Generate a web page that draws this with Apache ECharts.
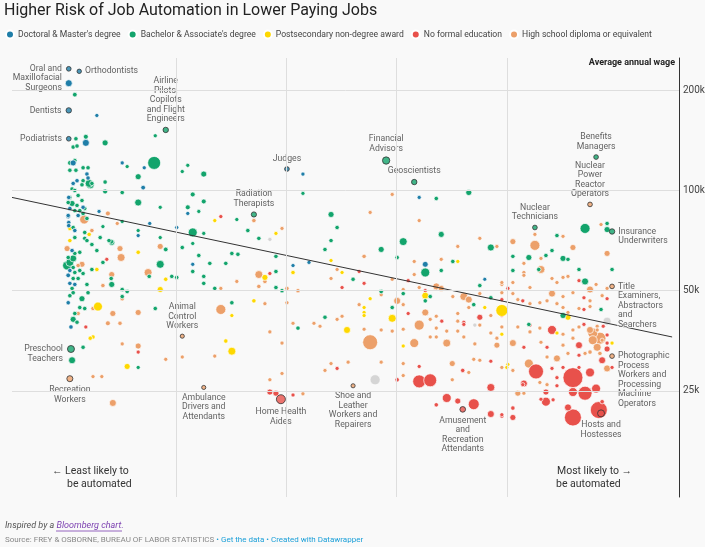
<!DOCTYPE html>
<html><head><meta charset="utf-8">
<script src="https://cdn.jsdelivr.net/npm/echarts@6/dist/echarts.min.js"></script>
<style>html,body{margin:0;padding:0;background:#f9f9f9}#c{width:705px;height:547px}</style>
</head><body><div id="c"></div>
<script>
// ---- categories / colours ----
const categories = ["Doctoral & Master's degree", "Bachelor & Associate's degree", "Postsecondary non-degree award", "No formal education", "High school diploma or equivalent"];
const palette = ['#1f7ea8', '#13a46c', '#fed800', '#e8514b', '#eca06a'];
const yTicks = [25, 50, 100, 200];          // average annual wage, thousands
const xGrid = [0.2, 0.4, 0.6, 0.8];         // probability of automation
const trendX = [-0.098, 1.1];
const trendY = [95.3, 36.3];

// ---- data: [probability of automation, average wage (k$), employment (k)] ----
const doctoral = [[0.005,210,100],[0.056,168,35],[0.036,139,100],[0.102,121,35],[0.142,117,35],[0.14,102,45],[0.06,86.5,35],[0.201,77.4,35],[0.221,85.3,35],[0.131,73.2,35],[0.152,79.6,35],[0.013,121,75],[0.038,112,40],[0.04,109,40],[0.02,107,40],[0.013,105,40],[0.031,89,40],[0.007,88.3,40],[0.022,84.1,40],[0.004,84.1,40],[0.005,80.1,40],[0.016,75.8,40],[0.011,66,40],[0.007,57.5,40],[0.004,55.6,45],[0.007,52.6,40],[0.016,52.2,40],[0.004,46,40],[0.009,38.9,40],[0.23,60,35],[0.412,59.5,35],[0.441,60.8,35],[0.43,112,35],[0.641,95.3,35],[0.652,60,70],[0.76,54.1,30],[0.005,95.3,40],[0.004,83.5,45],[0.005,78.4,40]];

const bachelor = [[0.016,194,45],[0.018,143,40],[0.036,145,50],[0.071,139,75],[0.013,135,40],[0.02,136,40],[0.162,146,35],[0.16,121,345],[0.111,118,35],[0.131,110,75],[0.071,106,40],[0.102,98.6,40],[0.071,99.3,50],[0.044,104,130],[0.131,92,100],[0.102,80.7,35],[0.067,77.9,35],[0.171,89,35],[0.211,114,35],[0.221,119,35],[0.25,112,75],[0.23,97.3,50],[0.221,89,50],[0.25,92.7,50],[0.241,86.5,35],[0.31,81.8,35],[0.23,74.8,165],[0.25,74.3,35],[0.171,72.2,35],[0.131,75.8,35],[0.181,66.5,45],[0.211,67.4,40],[0.23,69.3,35],[0.082,70.2,50],
[0.007,121,45],[0.016,123,40],[0.031,117,40],[0.04,117,40],[0.007,115,40],[0.018,115,40],[0.042,105,130],[0.047,105,40],[0.031,107,40],[0.029,104,40],[0.011,101,40],[0.016,100,40],[0.022,96.6,40],[0.007,95.3,40],[0.004,92,40],[0.011,91.4,75],[0.02,90.2,40],[0.029,93.3,40],[0.016,87,40],[0.025,87,40],[0.034,88.3,40],[0.031,85.3,40],[0.013,77.4,40],[0.038,82.4,40],[0.034,74.8,40],[0.034,71.8,40],[0.016,72.2,40],[0.038,70.7,40],[0.016,64.7,40],[0.025,65.2,40],[0.004,62.9,40],[0.013,62.5,100],[0.007,60.8,130],[0.002,59.5,165],[0.013,58.7,40],[0.016,56.7,40],[0.031,56.3,40],[0.025,57.5,40],[0.013,54.4,40],[0.022,54.4,40],[0.038,52.2,40],[0.011,50.8,40],[0.007,48.3,40],[0.013,49.3,40],[0.029,47.3,75],[0.025,44.5,40],[0.016,42.7,40],[0.034,44.2,40],[0.013,41,75],[0.02,40.2,40],[0.04,49.3,40],[0.031,33.8,40],[0.011,30.9,100],
[0.047,68.8,40],[0.056,66,40],[0.062,72.2,40],[0.078,70.7,40],[0.083,69.8,75],[0.067,60.8,40],[0.047,57.9,40],[0.151,55.2,40],[0.082,54.4,40],[0.083,52.2,75],[0.102,50.4,40],[0.111,49.7,40],[0.102,48,40],[0.171,60,130],[0.192,55.2,40],[0.201,54.8,40],[0.162,44.2,40],[0.23,57.1,40],[0.25,55.2,40],[0.25,52.6,40],[0.261,60.4,40],[0.27,50.8,40],[0.29,60.4,40],[0.301,64.7,40],[0.312,64.3,40],[0.241,63.8,40],[0.301,46,40],[0.131,29.4,35],[0.33,75.8,40],[0.35,71.8,40],[0.43,98,35],[0.481,84.7,75],[0.492,77.4,40],[0.481,70.7,40],[0.47,66.5,40],[0.381,57.1,40],[0.381,51.1,40],[0.392,50,40],[0.381,63.4,40],[0.47,41.6,40],[0.421,38.6,40],[0.521,54.1,40],[0.572,66.5,75],[0.612,70.2,130],[0.572,49.7,40],[0.612,49,40],[0.601,62.9,40],[0.672,94.6,40],[0.731,98.6,75],[0.681,73.8,75],[0.652,56.7,165],[0.661,48,40],[0.652,46.6,40],[0.681,57.5,40],[0.702,61.2,40],[0.592,44.5,40],[0.771,67.4,100],[0.751,51.8,40],[0.771,47.6,40],[0.811,63.4,40],[0.84,62.9,75],[0.882,66,40],[0.891,73.2,40],[0.902,62.5,75],[0.911,62.1,40],[0.811,57.5,40],[0.931,57.9,40],[0.942,53.3,100],[0.942,76.9,205],[0.982,79.6,40],[0.982,76.3,75],[0.971,43.9,40],[0.902,42.1,75],[0.871,63.8,40],[0.858,57.9,40],[0.991,57.9,40],[0.74,45.4,40],[0.84,39.6,40]];

const postsecondary = [[0.042,73.8,40],[0.007,76.9,40],[0.007,70.7,40],[0.131,65.2,40],[0.181,54.1,40],[0.171,50.4,75],[0.056,57.9,40],[0.058,44.8,165],[0.049,36.3,40],[0.044,36,40],[0.111,29.6,75],[0.29,35.3,40],[0.301,32.9,130],[0.301,42.1,35],[0.27,81.2,35],[0.381,74.3,35],[0.361,54.8,75],[0.412,56.7,40],[0.481,61.6,35],[0.501,56.7,35],[0.341,46.6,40],[0.51,38.1,100],[0.541,43,35],[0.541,44.5,35],[0.541,42.1,35],[0.552,47.3,35],[0.592,41.3,130],[0.652,48.3,100],[0.711,61.2,35],[0.76,44.5,35],[0.791,43.6,295],[0.791,37,35],[0.802,30,35],[0.612,34.1,35],[0.911,41.6,75],[0.991,34.8,35],[0.891,37.3,35],[0.8,29.4,35]];

const noFormal = [[0.281,83.5,35],[0.036,38.9,35],[0.074,62.1,35],[0.131,32.7,35],[0.37,56.3,35],[0.501,51.1,35],[0.532,57.1,35],[0.541,52.6,35],[0.621,53.6,35],[0.652,50,35],[0.791,47,35],[0.802,50.8,35],[0.621,42.7,35],[0.682,40.5,35],[0.722,40.2,35],[0.722,39.6,35],[0.751,41.6,75],[0.791,42.1,35],[0.492,29.2,35],[0.37,24.8,75],[0.381,24.6,75],[0.412,24.3,35],[0.601,27,40],[0.641,29.6,35],[0.641,26.7,345],[0.661,26.9,345],[0.691,23.8,165],[0.711,23.3,75],[0.74,22.8,245],[0.672,22.7,40],[0.771,25.6,130],[0.771,21.3,100],[0.791,21,40],[0.72,28.8,40],[0.771,30.7,35],[0.811,22.2,40],[0.811,20.8,75],[0.791,21.2,35],[0.853,28.6,460],[0.92,27.4,815],[0.951,28.4,165],[0.973,30.9,100],[0.991,29.4,35],[0.931,29.4,35],[0.902,29.4,35],[0.882,29.2,35],[0.831,26.3,100],[0.891,27.4,35],[0.891,25.9,35],[0.92,24.8,165],[0.942,24.6,400],[0.962,25.4,165],[0.973,23.2,40],[0.871,24.8,75],[0.871,23.2,165],[0.862,23.6,35],[0.911,22.3,100],[0.92,20.8,590],[0.967,21.9,590],[0.884,23.5,35],[0.829,26.1,35],[0.982,47.3,35],[0.931,53.6,35],[0.94,47.6,35],[0.829,46.6,35],[0.94,43.9,35],[0.975,39.1,35],[0.94,39.6,35],[0.982,33.4,75],[0.982,36.8,35],[0.982,34.8,35],[0.931,34.3,100],[0.882,38.1,165],[0.842,39.4,35],[0.831,33.8,35],[0.873,33.8,35],[0.931,32,35]];

const highSchool = [[0.076,85.3,50],[0.033,81.8,165],[0.093,79.6,35],[0.171,67.9,75],[0.047,75.8,40],[0.002,66.9,75],[0.022,59.5,40],[0.029,60,75],[0.098,66.9,75],[0.1,62.9,130],[0.083,55.9,75],[0.149,56.7,130],[0.067,51.8,40],[0.102,47.3,40],[0.085,42.7,75],[0.098,39.9,40],[0.076,39.9,50],[0.131,43,75],[0.049,44.2,40],[0.022,42.7,40],[0.102,34.6,35],[0.131,34.1,75],[0.049,27.6,35],[0.065,27.6,35],[0.085,23,100],[0.181,31.1,35],[0.211,31.6,35],[0.27,31.8,35],[0.281,43.9,205],[0.281,50.8,35],[0.31,53.3,35],[0.341,81.2,40],[0.392,76.9,35],[0.35,55.9,130],[0.361,53.3,40],[0.35,51.5,40],[0.401,50.8,40],[0.421,50,40],[0.361,45.7,35],[0.401,46,35],[0.412,39.9,35],[0.45,39.9,35],[0.461,39.1,35],[0.492,41,35],[0.501,41.9,35],[0.37,37.6,35],[0.392,34.8,35],[0.392,28.2,35],[0.37,27,35],[0.43,24.5,35],[0.512,30.5,35],[0.481,30.2,35],[0.47,28.8,35],[0.492,57.9,35],[0.481,54.4,35],[0.552,85.9,35],[0.592,97.3,35],[0.641,81.2,35],[0.711,67.9,35],[0.541,63.4,40],[0.632,61.2,35],[0.632,55.9,35],[0.681,62.1,35],[0.751,71.8,35],[0.782,67.9,35],[0.592,54.1,35],[0.612,50.4,35],[0.572,48.6,35],[0.641,51.1,35],[0.672,51.5,100],[0.681,50.8,75],[0.702,48,35],[0.722,48,130],[0.731,47,100],[0.751,49,35],[0.791,52.2,35],[0.791,49.3,35],[0.601,46.6,100],[0.612,45.4,35],[0.532,45.4,35],[0.652,43,100],[0.672,41.9,35],[0.641,39.4,205],[0.661,41,35],[0.711,40.5,35],[0.751,39.4,35],[0.771,42.1,35],[0.731,44.5,35],[0.711,42.7,35],[0.711,37.8,35],[0.691,37.8,35],[0.672,38.6,35],[0.661,36.3,35],[0.672,36.3,35],[0.691,34.8,130],[0.722,36.3,35],[0.742,34.6,35],[0.771,37.3,35],[0.782,36,35],[0.791,38.9,35],[0.782,34.3,75],[0.632,34.8,165],[0.592,37.8,35],[0.612,38.3,35],[0.572,38.1,35],[0.541,38.3,35],[0.552,35,460],[0.572,30.5,35],[0.612,30.2,35],[0.701,30.2,75],[0.74,31.1,35],[0.751,30.9,35],[0.791,29.4,35],[0.731,28.4,35],[0.612,27.8,35],[0.701,27,35],
[0.811,70.2,75],[0.851,68.4,205],[0.902,72.8,35],[0.92,67.4,75],[0.982,64.7,75],[0.971,79,35],[0.851,73.8,35],[0.862,57.9,130],[0.862,62.5,35],[0.831,60.4,35],[0.831,56.7,35],[0.831,55.6,35],[0.791,52.9,35],[0.811,52.9,35],[0.842,51.1,35],[0.882,54.4,35],[0.891,52.9,35],[0.902,54.8,35],[0.911,55.2,35],[0.951,50.4,100],[0.962,52.2,35],[0.982,50.8,35],[0.973,48.3,35],[0.882,49,100],[0.902,48,35],[0.92,49.3,35],[0.951,46.6,35],[0.811,49,35],[0.82,47,35],[0.842,45.7,35],[0.86,46,35],[0.873,46.6,35],[0.891,45.7,35],[0.902,44.5,35],[0.911,43,35],[0.931,44.2,35],[0.951,44.8,35],[0.964,39.1,35],[0.931,38.9,35],[0.92,38.1,35],[0.951,38.1,100],[0.956,37.3,205],[0.964,38.1,35],[0.969,36,295],[0.956,35.5,165],[0.964,33.8,130],[0.973,35.5,35],[0.969,32.4,40],[0.951,32.7,40],[0.92,36,35],[0.902,37,35],[0.86,38.6,35],[0.842,37.6,35],[0.82,38.9,35],[0.811,34.8,100],[0.862,35,35],[0.902,34.3,35],[0.911,32.4,35],[0.942,32.4,35],[0.873,31.6,35],[0.891,31.3,100],[0.84,30.2,165],[0.982,29.2,100],[0.811,28.8,35],[0.82,24.6,75],[0.831,24.6,35],[0.86,26.5,35],[0.873,26.1,35]];

const unclassified = [[0.37,71.3,35],[0.561,27,205],[0.742,39.4,35],[0.982,40.5,130]];

// labelled occupations: [name, category index, probability, wage (k$), employment (k)]
const labeledJobs = [
 ['Oral and\nMaxillofacial\nSurgeons',0,0.005,232,45],
 ['Orthodontists',0,0.024,228,40],
 ['Dentists',0,0.005,174,60],
 ['Podiatrists',0,0.005,143,45],
 ['Judges',0,0.401,116,45],
 ['Airline\nPilots,\nCopilots\nand Flight\nEngineers',1,0.181,152,60],
 ['Financial\nAdvisors',1,0.581,123,110],
 ['Geoscientists',1,0.632,106,60],
 ['Radiation\nTherapists',1,0.341,84.7,55],
 ['Benefits\nManagers',1,0.962,126,45],
 ['Nuclear\nTechnicians',1,0.851,77.4,45],
 ['Insurance\nUnderwriters',1,0.991,75.3,60],
 ['Preschool\nTeachers',1,0.009,33.4,100],
 ['Hosts and\nHostesses',3,0.971,21.4,100],
 ['Amusement\nand\nRecreation\nAttendants',3,0.72,22,65],
 ['Home Health\nAides',3,0.39,23.6,165],
 ['Nuclear\nPower\nReactor\nOperators',4,0.951,90.8,45],
 ['Title\nExaminers,\nAbstractors\nand\nSearchers',4,0.991,51.5,45],
 ['Photographic\nProcess\nWorkers and\nProcessing\nMachine\nOperators',4,0.991,31.8,45],
 ['Shoe and\nLeather\nWorkers and\nRepairers',4,0.521,25.9,35],
 ['Ambulance\nDrivers and\nAttendants',4,0.25,25.6,35],
 ['Animal\nControl\nWorkers',4,0.211,36.5,35],
 ['Recreation\nWorkers',4,0.007,27.2,75]
];

// ---- label placement (style, not data) ----
const LH = 9.5;
function placement(name){
  const lines = name.split('\n').length;
  const left = ['Oral and\nMaxillofacial\nSurgeons','Dentists','Podiatrists','Preschool\nTeachers'];
  const right = ['Orthodontists','Insurance\nUnderwriters','Title\nExaminers,\nAbstractors\nand\nSearchers','Photographic\nProcess\nWorkers and\nProcessing\nMachine\nOperators'];
  const bottom = ['Hosts and\nHostesses','Amusement\nand\nRecreation\nAttendants','Home Health\nAides','Shoe and\nLeather\nWorkers and\nRepairers','Ambulance\nDrivers and\nAttendants','Recreation\nWorkers'];
  if (left.includes(name)) return {position:'left', distance:4, offset:[0,(lines-1)*LH/2]};
  if (right.includes(name)) return {position:'right', distance:3, offset:[0,(lines-1)*LH/2]};
  if (bottom.includes(name)) return {position:'bottom', distance:3};
  return {position:'top', distance:3};
}

const sizeOf = v => Math.max(4, 0.7 * Math.sqrt(v[2]));
const bySizeDesc = arr => arr.slice().sort((a,b)=>b[2]-a[2]);
const catData = [doctoral, bachelor, postsecondary, noFormal, highSchool];
const FONT = 'Roboto, "Noto Sans", sans-serif';

const drawOrder = [4,3,2,1,0];
const series = [];
series.push({
  type:'scatter', name:'grid', data:[[0.5,100]], symbolSize:0, silent:true, z:1,
  markLine:{ silent:true, symbol:'none', animation:false,
    lineStyle:{color:'#dedede', width:1, type:'solid'},
    data: xGrid.map(v=>({xAxis:v, label:{show:false}}))
      .concat(yTicks.map(v=>({yAxis:v, label:{show:true, position:'end', distance:4, formatter: v+'k', color:'#444', fontSize:10, fontFamily:FONT}})))
  }
});
series.push({type:'scatter', name:'unclassified', data:bySizeDesc(unclassified), symbolSize:sizeOf, silent:true, z:2,
  itemStyle:{color:'#cccccc', borderColor:'#ffffff', borderWidth:0.7}});
drawOrder.forEach(i=>{
  series.push({type:'scatter', name:categories[i], data:bySizeDesc(catData[i]), symbolSize:sizeOf, silent:true, z:2,
    itemStyle:{color:palette[i], borderColor:'#ffffff', borderWidth:0.7, opacity:1}});
});
series.push({type:'line', name:'trend', data: trendX.map((x,i)=>[x,trendY[i]]), showSymbol:false, silent:true, z:3,
  lineStyle:{color:'#333', width:1}});
series.push({type:'scatter', name:'labeled', silent:true, z:4, symbolSize:sizeOf,
  data: labeledJobs.map(j=>{
    const pl = placement(j[0]);
    return {value:[j[2],j[3],j[4]], name:j[0],
      itemStyle:{color:palette[j[1]], borderColor:'#333', borderWidth:1},
      label:Object.assign({show:true, formatter:j[0], color:'#3a3a3a', fontSize:8.7, lineHeight:LH, fontFamily:FONT,
        textBorderColor:'rgba(249,249,249,0.95)', textBorderWidth:2}, pl)};
  })
});

const chart = echarts.init(document.getElementById('c'), null, {renderer:'canvas'});
chart.setOption({
  backgroundColor:'#f9f9f9',
  animation:false,
  title:{text:'Higher Risk of Job Automation in Lower Paying Jobs', left:4, top:3, padding:0,
    textStyle:{fontFamily:FONT, fontSize:16, fontWeight:'normal', color:'#222'}},
  legend:{data:categories, left:5, top:29.5, padding:0, icon:'circle', itemWidth:8, itemHeight:8, itemGap:7,
    selectedMode:false, textStyle:{fontFamily:FONT, fontSize:8.6, color:'#444', padding:[0,0,0,-1]}},
  grid:{left:12, right:26, top:58, bottom:50, containLabel:false},
  xAxis:{type:'value', min:-0.098, max:1.1125, axisLine:{show:false}, axisTick:{show:false}, axisLabel:{show:false}, splitLine:{show:false}},
  yAxis:{type:'log', min:12, max:250, position:'right', axisLine:{show:true, onZero:false, lineStyle:{color:'#333', width:1}},
    axisTick:{show:false}, axisLabel:{show:false}, splitLine:{show:false}},
  graphic:[
    {type:'text', x:675, y:63, style:{text:'Average annual wage', font:'bold 9px '+FONT, fill:'#222', align:'right', verticalAlign:'middle'}},
    {type:'text', x:52, y:471, style:{text:'\u2190 Least likely to', font:'10.5px '+FONT, fill:'#333', verticalAlign:'middle'}},
    {type:'text', x:67, y:484, style:{text:'be automated', font:'10.5px '+FONT, fill:'#333', verticalAlign:'middle'}},
    {type:'text', x:557, y:471, style:{text:'Most likely to \u2192', font:'10.5px '+FONT, fill:'#333', verticalAlign:'middle'}},
    {type:'text', x:556, y:484, style:{text:'be automated', font:'10.5px '+FONT, fill:'#333', verticalAlign:'middle'}},
    {type:'text', x:5, y:526, style:{text:'{a|Inspired by a }{b|Bloomberg chart.}', verticalAlign:'middle',
      rich:{a:{font:'italic 9px '+FONT, fill:'#555'}, b:{font:'italic 9px '+FONT, fill:'#7b3fb0'}}}},
    {type:'line', shape:{x1:56, y1:531, x2:122, y2:531}, style:{stroke:'#7b3fb0', lineWidth:0.8}},
    {type:'text', x:5, y:540, style:{text:'{a|Source: FREY & OSBORNE, BUREAU OF LABOR STATISTICS }{b|\u2022 Get the data \u2022 Created with Datawrapper}', verticalAlign:'middle',
      rich:{a:{font:'8px '+FONT, fill:'#888'}, b:{font:'8px '+FONT, fill:'#1a9fd8'}}}}
  ],
  series: series
});
</script></body></html>
